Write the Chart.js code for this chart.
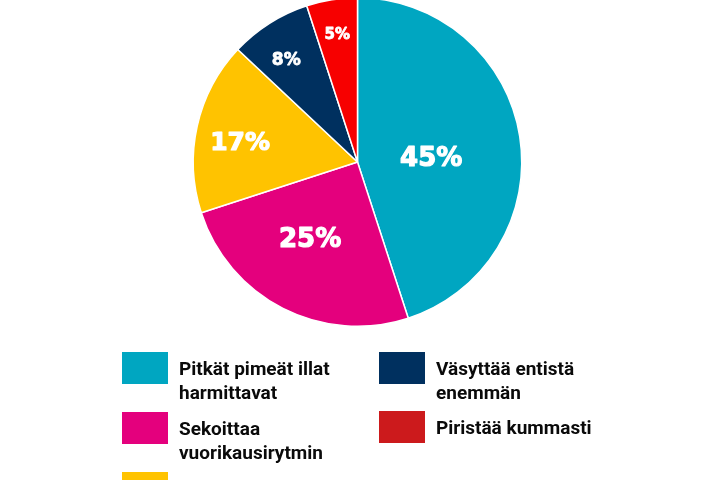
<!DOCTYPE html>
<html>
<head>
<meta charset="utf-8">
<script src="https://cdn.jsdelivr.net/npm/chart.js@4"></script>
<style>
  html, body { margin: 0; padding: 0; background: #ffffff; width: 720px; height: 480px; overflow: hidden; }
  #wrap { position: absolute; left: 0; top: -3px; width: 720px; height: 480px; }
  #legend { position: absolute; left: 122px; top: 352px; width: 560px; height: 200px;
            font-family: Roboto, "Liberation Sans", sans-serif; font-weight: 700; font-size: 19px;
            line-height: 24px; color: #0a0a0a; }
  .item { position: absolute; display: flex; align-items: flex-start; }
  .sw { width: 46px; height: 32px; flex: none; }
  .txt { margin-left: 11px; margin-top: 5px; white-space: nowrap; }
</style>
</head>
<body>
<div id="wrap"><canvas id="c" width="720" height="480"></canvas></div>
<div id="legend"></div>
<script>
// ---- data ----
const categories = [
  "Pitkät pimeät illat harmittavat",
  "Sekoittaa vuorikausirytmin",
  "Ei vaikuta mitenkään",
  "Väsyttää entistä enemmän",
  "Piristää kummasti"
];
const legendLines = [
  ["Pitkät pimeät illat", "harmittavat"],
  ["Sekoittaa", "vuorikausirytmin"],
  ["Ei vaikuta mitenkään"],
  ["Väsyttää entistä", "enemmän"],
  ["Piristää kummasti"]
];
const values = [45, 25, 17, 8, 5];
const valueLabels = ["45%", "25%", "17%", "8%", "5%"];

// ---- styles ----
const sliceColors = ["#00a6c1", "#e4007d", "#ffc300", "#00305f", "#f70000"];
const legendColors = ["#00a6c1", "#e4007d", "#ffc300", "#00305f", "#cc1a1c"];
const labelRadius = [0.45, 0.545, 0.726, 0.76, 0.79];
const labelAngleShiftDeg = [4.7, 5, -2.5, -2.4, 0];
const labelSize = [26, 26, 25, 17, 15];

const labelPlugin = {
  id: 'sliceLabels',
  afterDatasetsDraw(chart) {
    const ctx = chart.ctx;
    const meta = chart.getDatasetMeta(0);
    ctx.save();
    ctx.fillStyle = '#ffffff';
    ctx.strokeStyle = '#ffffff';
    ctx.lineJoin = 'round';
    ctx.textAlign = 'center';
    ctx.textBaseline = 'middle';
    meta.data.forEach((arc, i) => {
      const p = arc.getProps(['x', 'y', 'startAngle', 'endAngle', 'outerRadius'], true);
      const mid = (p.startAngle + p.endAngle) / 2 + labelAngleShiftDeg[i] * Math.PI / 180;
      const r = p.outerRadius * labelRadius[i];
      const x = p.x + Math.cos(mid) * r, y = p.y + Math.sin(mid) * r + labelSize[i] * 0.09;
      ctx.font = 'bold ' + labelSize[i] + 'px "DejaVu Sans", sans-serif';
      ctx.lineWidth = labelSize[i] > 20 ? 1.2 : 0.8;
      ctx.strokeText(valueLabels[i], x, y);
      ctx.fillText(valueLabels[i], x, y);
    });
    ctx.restore();
  }
};

new Chart(document.getElementById('c'), {
  type: 'pie',
  data: {
    labels: categories,
    datasets: [{
      data: values,
      backgroundColor: sliceColors,
      borderColor: '#ffffff',
      borderWidth: 1.5,
      hoverOffset: 0
    }]
  },
  options: {
    responsive: false,
    animation: false,
    layout: { padding: { top: 0, left: 0, right: 5, bottom: 150 } },
    plugins: { legend: { display: false }, tooltip: { enabled: false } }
  },
  plugins: [labelPlugin]
});

// HTML legend (column-major: 3 rows in first column)
const legend = document.getElementById('legend');
categories.forEach((cat, i) => {
  const col = i < 3 ? 0 : 1;
  const row = i < 3 ? i : i - 3;
  const it = document.createElement('div');
  it.className = 'item';
  it.style.left = (col * 257) + 'px';
  it.style.top = (row * 60 - (col === 1 && row === 1 ? 1 : 0)) + 'px';
  const sw = document.createElement('div');
  sw.className = 'sw';
  sw.style.background = legendColors[i];
  const tx = document.createElement('div');
  tx.className = 'txt';
  tx.innerHTML = legendLines[i].join('<br>');
  it.appendChild(sw);
  it.appendChild(tx);
  legend.appendChild(it);
});
</script>
</body>
</html>
